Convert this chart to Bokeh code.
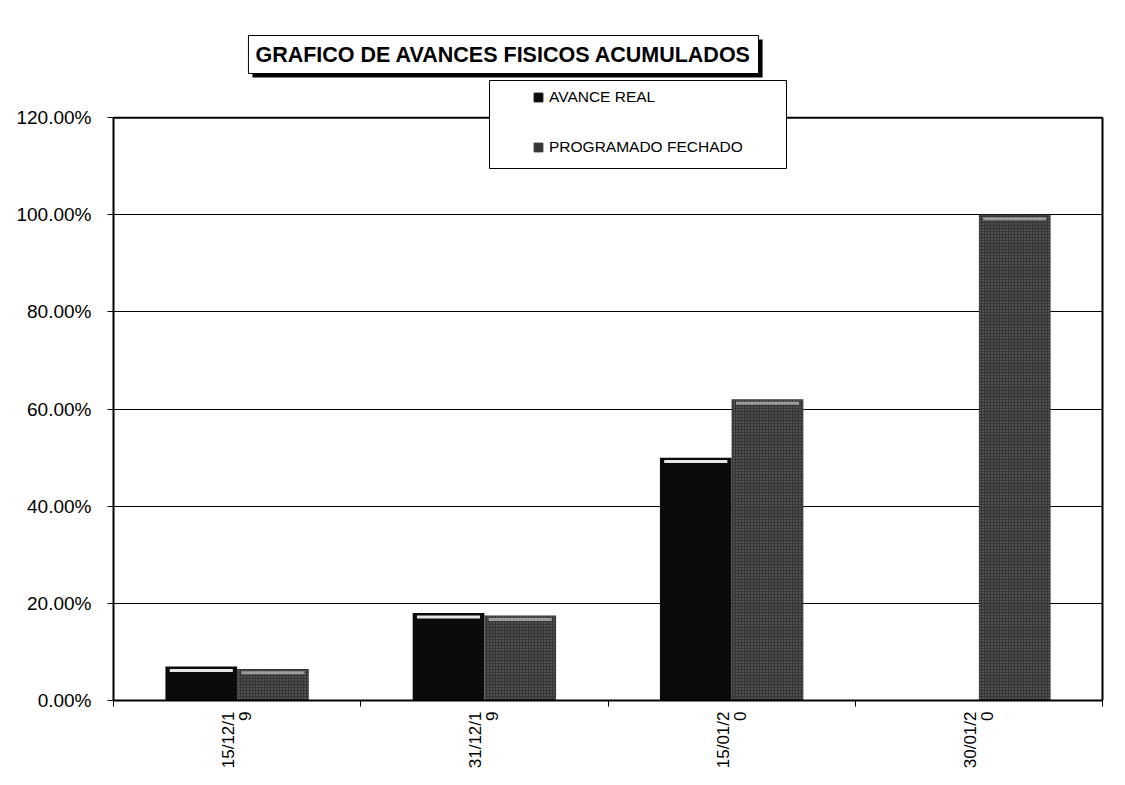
import math
from bokeh.plotting import figure
from bokeh.models import (Range1d, FixedTicker, NumeralTickFormatter, Label,
                          Legend, LegendItem, ColumnDataSource, LinearAxis, Span,
                          BoxAnnotation)
from bokeh.transform import dodge
from bokeh.embed import file_html
from bokeh.resources import INLINE

# ---- data ----
fechas = ["15/12/1\n9", "31/12/1\n9", "15/01/2\n0", "30/01/2\n0"]
avance_real = [0.07, 0.18, 0.50, 0.0]
programado = [0.065, 0.175, 0.62, 1.00]
y_ticks = [0.0, 0.2, 0.4, 0.6, 0.8, 1.0, 1.2]
serie_real = "AVANCE REAL"
serie_prog = "PROGRAMADO FECHADO"
titulo = "GRAFICO DE AVANCES FISICOS ACUMULADOS"

y_max = y_ticks[-1]
y_top = 1.4  # extra room above the plot box for the title and legend

centros = [i + 0.5 for i in range(len(fechas))]
limites = [float(i) for i in range(len(fechas) + 1)]

src = ColumnDataSource(dict(x=centros, real=avance_real, prog=programado))

FONT = "Liberation Sans"
C_REAL = "#0b0b0b"
C_PROG = "#353535"

p = figure(width=1117, height=776, output_backend="svg", toolbar_location=None,
           x_range=Range1d(0, len(fechas)), y_range=Range1d(0, y_top),
           min_border_left=113, min_border_right=15, min_border_top=20,
           min_border_bottom=76)
p.background_fill_color = "white"
p.border_fill_color = "white"
p.outline_line_color = None

bw = 0.29
xr = dodge("x", -bw / 2, range=p.x_range)
xp = dodge("x", bw / 2, range=p.x_range)
p.vbar(x=xr, top="real", width=bw, bottom=0, source=src,
       fill_color=C_REAL, line_color=None)
p.vbar(x=xp, top="prog", width=bw, bottom=0, source=src,
       fill_color=C_PROG, line_color=None,
       hatch_pattern="dot", hatch_color="#a8a8a8", hatch_scale=3, hatch_alpha=0.55)
# light cylinder-cap highlight just below each bar top
p.rect(x=xr, y=dodge("real", -0.008), width=bw * 0.88, height=3,
       height_units="screen", source=src, fill_color="#e6e6e6", line_color=None)
p.rect(x=xp, y=dodge("prog", -0.008), width=bw * 0.88, height=3,
       height_units="screen", source=src, fill_color="#9c9c9c", line_color=None)

# dummy renderers for legend markers
s1 = p.scatter(x="x", y="real", source=src, marker="square", size=8,
               fill_color=C_REAL, line_color=C_REAL, visible=False)
s2 = p.scatter(x="x", y="prog", source=src, marker="square", size=8,
               fill_color=C_PROG, line_color=C_PROG, visible=False)

# grid
p.ygrid.ticker = FixedTicker(ticks=y_ticks)
p.ygrid.grid_line_color = "black"
p.ygrid.grid_line_width = 1
p.xgrid.visible = False

# top border of the plot box
p.add_layout(Span(location=y_max, dimension="width", line_color="black",
                  line_width=2))

# axes
p.yaxis.bounds = (0, y_max)
p.yaxis.ticker = FixedTicker(ticks=y_ticks)
p.yaxis.formatter = NumeralTickFormatter(format="0.00%")
p.yaxis.major_label_text_font = FONT
p.yaxis.major_label_text_font_size = "19px"
p.yaxis.major_label_text_color = "black"
p.yaxis.major_tick_out = 6
p.yaxis.major_tick_in = 0
p.yaxis.minor_tick_out = 0
p.yaxis.minor_tick_in = 0
p.yaxis.major_label_standoff = 16
p.yaxis.axis_line_width = 2
p.yaxis.axis_line_color = "black"

right = LinearAxis(bounds=(0, y_max), ticker=FixedTicker(ticks=[]),
                   major_label_text_font_size="0px", major_tick_out=0,
                   major_tick_in=0, minor_tick_out=0, minor_tick_in=0,
                   axis_line_width=2, axis_line_color="black")
p.add_layout(right, "right")

p.xaxis.ticker = FixedTicker(ticks=centros, minor_ticks=limites)
p.xaxis.major_label_overrides = {c: f for c, f in zip(centros, fechas)}
p.xaxis.major_label_orientation = math.pi / 2
p.xaxis.major_label_text_font = FONT
p.xaxis.major_label_text_font_size = "17px"
p.xaxis.major_label_text_line_height = 0.9
p.xaxis.major_label_text_color = "black"
p.xaxis.major_tick_out = 0
p.xaxis.major_tick_in = 0
p.xaxis.minor_tick_out = 6
p.xaxis.minor_tick_in = 0
p.xaxis.minor_tick_line_color = "black"
p.xaxis.major_label_standoff = 5
p.xaxis.axis_line_width = 2
p.xaxis.axis_line_color = "black"

# title box with shadow
shadow = Label(x=394, y=642, x_units="screen", y_units="screen", text=titulo,
               text_align="center", text_baseline="middle", text_font=FONT,
               text_font_style="bold", text_font_size="21.5px", text_color="black",
               background_fill_color="black", padding=7)
tit = Label(x=390, y=646, x_units="screen", y_units="screen", text=titulo,
            text_align="center", text_baseline="middle", text_font=FONT,
            text_font_style="bold", text_font_size="21.5px", text_color="black",
            background_fill_color="white", border_line_color="black",
            border_line_width=1, padding=7)
p.add_layout(shadow)
p.add_layout(tit)

# legend box + legend contents
p.add_layout(BoxAnnotation(left=376, right=673, bottom=532, top=620,
                           left_units="screen", right_units="screen",
                           bottom_units="screen", top_units="screen",
                           fill_color="white", fill_alpha=1,
                           line_color="black", line_width=1, line_alpha=1))
legend = Legend(items=[LegendItem(label=serie_real, renderers=[s1]),
                       LegendItem(label=serie_prog, renderers=[s2])],
                location=(414, 542), orientation="vertical", padding=0, spacing=28,
                glyph_width=22, glyph_height=22, label_height=22,
                label_standoff=0, margin=0,
                border_line_color=None, background_fill_alpha=0,
                label_text_font=FONT, label_text_font_size="15.5px",
                label_text_color="black")
p.add_layout(legend)

open("out.html", "w").write(file_html(p, INLINE))
